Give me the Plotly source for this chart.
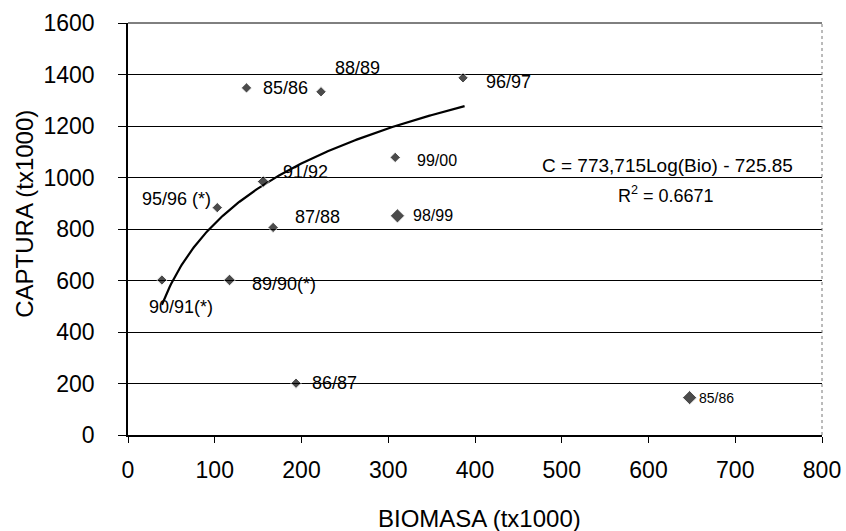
import numpy as np
import plotly.graph_objects as go

# ---- data ----
labels = ["85/86", "88/89", "96/97", "99/00", "91/92", "95/96 (*)",
          "87/88", "98/99", "90/91(*)", "89/90(*)", "86/87", "85/86"]
biomasa = [136.6, 222.5, 386.2, 308.0, 155.8, 102.9, 167.3, 310.6, 39.1, 117.0, 193.7, 647.4]
captura = [1348, 1333, 1387, 1078, 984, 883, 806, 851, 602, 602, 201, 145]
marker_sizes = [8, 8, 8, 8, 9, 8, 8, 11, 8, 9, 8, 11]

# trend line coefficients (as printed on chart)
coef_a = 773.715
coef_b = -725.85
trend_min, trend_max = 39.1, 388.0

x_ticks = [0, 100, 200, 300, 400, 500, 600, 700, 800]
y_ticks = [0, 200, 400, 600, 800, 1000, 1200, 1400, 1600]

# label offsets (pixels) and anchors
label_style = [
    dict(xanchor="left", xshift=14, yshift=0, size=18),
    dict(xanchor="left", xshift=12, yshift=24, size=18),
    dict(xanchor="left", xshift=21, yshift=-4, size=18),
    dict(xanchor="left", xshift=20, yshift=-3, size=16),
    dict(xanchor="left", xshift=18, yshift=10, size=18),
    dict(xanchor="right", xshift=-4, yshift=9, size=18),
    dict(xanchor="left", xshift=20, yshift=10, size=18),
    dict(xanchor="left", xshift=14, yshift=0, size=16),
    dict(xanchor="left", xshift=-15, yshift=-27, size=18),
    dict(xanchor="left", xshift=20, yshift=-4, size=18),
    dict(xanchor="left", xshift=14, yshift=0, size=18),
    dict(xanchor="left", xshift=7, yshift=0, size=14),
]

FONT = "Arial, Liberation Sans, Helvetica, sans-serif"

fig = go.Figure()

tx = np.linspace(trend_min, trend_max, 200)
ty = coef_a * np.log10(tx) + coef_b
fig.add_trace(go.Scatter(x=tx, y=ty, mode="lines",
                         line=dict(color="black", width=2.2),
                         hoverinfo="skip", showlegend=False))

fig.add_trace(go.Scatter(x=biomasa, y=captura, mode="markers",
                         marker=dict(symbol="diamond", color="black", size=marker_sizes),
                         showlegend=False))

annotations = []
for lab, xv, yv, st in zip(labels, biomasa, captura, label_style):
    annotations.append(dict(x=xv, y=yv, xref="x", yref="y", text=lab,
                            showarrow=False, xanchor=st["xanchor"], yanchor="middle",
                            xshift=st["xshift"], yshift=st["yshift"],
                            font=dict(family=FONT, size=st["size"], color="black")))

annotations.append(dict(x=0.7775, y=0.653, xref="paper", yref="paper",
                        text="C = 773,715Log(Bio) - 725.85", showarrow=False,
                        xanchor="center", yanchor="middle",
                        font=dict(family=FONT, size=19, color="black")))
annotations.append(dict(x=0.775, y=0.583, xref="paper", yref="paper",
                        text="R<sup>2</sup> = 0.6671", showarrow=False,
                        xanchor="center", yanchor="middle",
                        font=dict(family=FONT, size=18, color="black")))
# axis titles
annotations.append(dict(x=0.506, y=0, xref="paper", yref="paper",
                        text="BIOMASA (tx1000)", showarrow=False,
                        xanchor="center", yanchor="middle", yshift=-83,
                        font=dict(family=FONT, size=24, color="black")))
annotations.append(dict(x=0, y=0.537, xref="paper", yref="paper",
                        text="CAPTURA (tx1000)", showarrow=False, textangle=-90,
                        xanchor="center", yanchor="middle", xshift=-103,
                        font=dict(family=FONT, size=24, color="black")))
fig.update_layout(annotations=annotations)

fig.update_layout(
    width=846, height=531,
    margin=dict(l=128, r=24, t=23, b=96),
    paper_bgcolor="white", plot_bgcolor="white",
    font=dict(family=FONT, color="black"),
    xaxis=dict(range=[0, 800], tickvals=x_ticks, showgrid=False, zeroline=False,
               automargin=False,
               showline=True, linecolor="black", linewidth=1.5,
               ticks="outside", ticklen=6, tickcolor="black", tickwidth=1,
               tickfont=dict(size=23, family=FONT, color="black"),
               ticklabelstandoff=8),
    yaxis=dict(range=[0, 1600], tickvals=y_ticks, showgrid=True, gridcolor="black",
               gridwidth=1, zeroline=False, automargin=False,
               showline=True, linecolor="black", linewidth=1.5,
               ticks="outside", ticklen=8, tickcolor="black", tickwidth=1,
               tickfont=dict(size=23, family=FONT, color="black"),
               ticklabelstandoff=19),
)

fig.add_shape(type="line", xref="paper", yref="paper", x0=1, x1=1, y0=0, y1=1,
              line=dict(color="#777777", width=1, dash="dot"))
fig.add_shape(type="line", xref="paper", yref="paper", x0=0, x1=1, y0=1, y1=1,
              line=dict(color="black", width=1))

fig.write_html("out.html", config={"displayModeBar": False},
               post_script="document.body.style.margin='0';document.body.style.padding='0';")
